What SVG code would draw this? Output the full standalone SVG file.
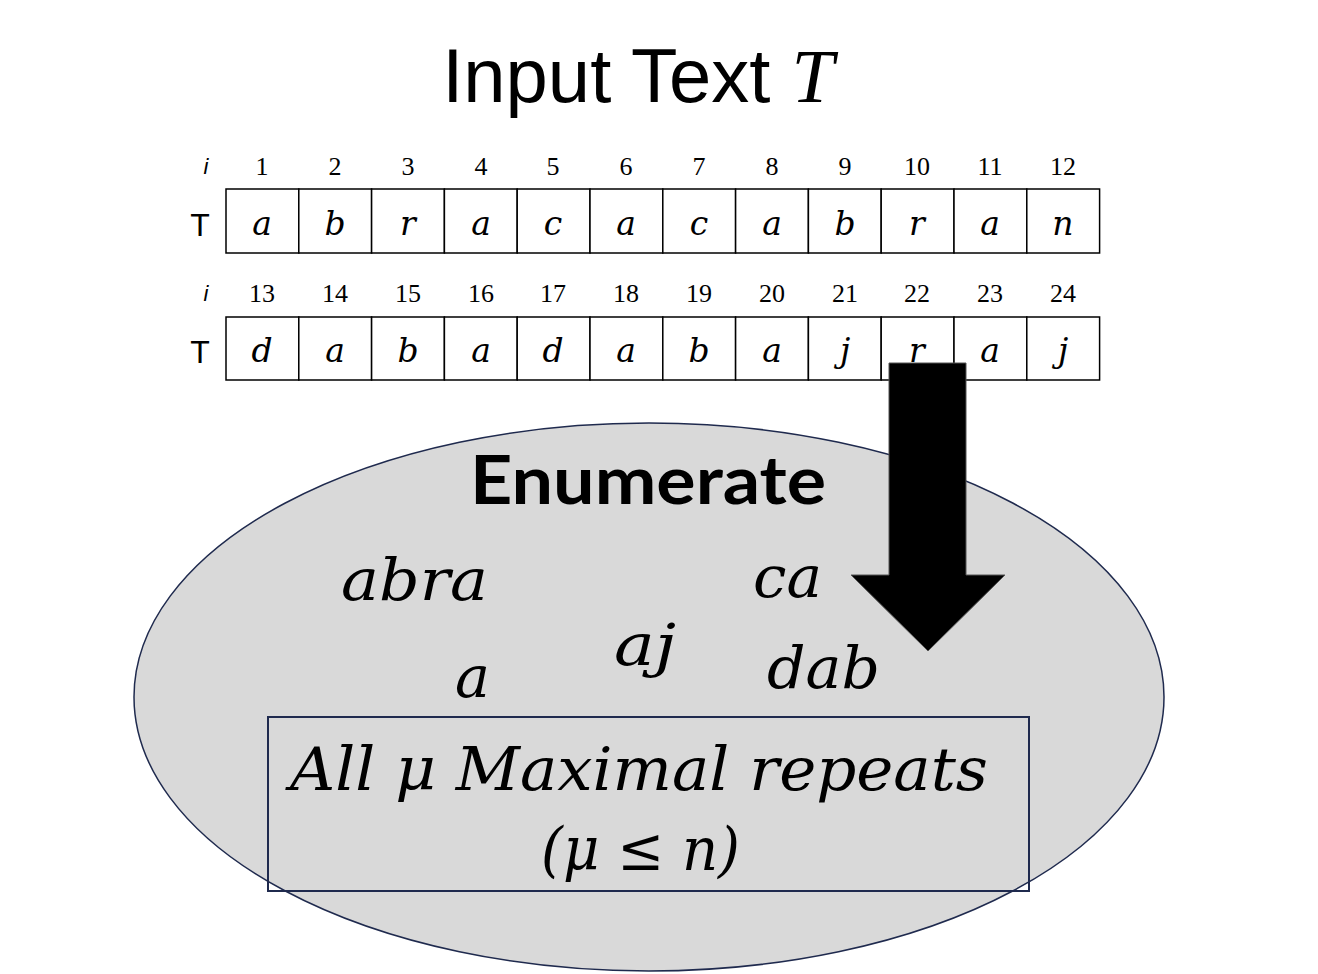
<svg xmlns="http://www.w3.org/2000/svg" width="1318" height="974" viewBox="0 0 1318 974">
<style>
.num{font-family:"Liberation Serif",serif;font-size:26px;text-anchor:middle;fill:#000}
.ii{font-family:"Liberation Sans",sans-serif;font-style:italic;font-size:22px;text-anchor:middle}
.tl{font-family:"Liberation Sans",sans-serif;font-size:32px;text-anchor:middle}
.ch{font-family:"DejaVu Serif",serif;font-style:italic;font-size:33px;text-anchor:middle}
.cell{fill:#fff;stroke:#000;stroke-width:1.5}
.m{font-family:"DejaVu Serif",serif;font-style:italic;fill:#000}
</style>
<rect width="1318" height="974" fill="#fff"/>
<g id="title">
<text x="638" y="102" font-family="Liberation Sans,sans-serif" font-size="76" text-anchor="middle">Input Text <tspan font-family="Liberation Serif,serif" font-style="italic">T</tspan></text>
</g>
<g id="row1">
<text class="ii" x="206" y="174">i</text>
<text class="tl" x="200" y="236">T</text>
<g id="cells1">
<rect class="cell" x="226" y="189" width="72.8" height="64"/>
<rect class="cell" x="298.8" y="189" width="72.8" height="64"/>
<rect class="cell" x="371.6" y="189" width="72.8" height="64"/>
<rect class="cell" x="444.4" y="189" width="72.8" height="64"/>
<rect class="cell" x="517.2" y="189" width="72.8" height="64"/>
<rect class="cell" x="590" y="189" width="72.8" height="64"/>
<rect class="cell" x="662.8" y="189" width="72.8" height="64"/>
<rect class="cell" x="735.6" y="189" width="72.8" height="64"/>
<rect class="cell" x="808.4" y="189" width="72.8" height="64"/>
<rect class="cell" x="881.2" y="189" width="72.8" height="64"/>
<rect class="cell" x="954" y="189" width="72.8" height="64"/>
<rect class="cell" x="1026.8" y="189" width="72.8" height="64"/>
</g>
<text class="num" x="262" y="175">1</text><text class="num" x="335" y="175">2</text><text class="num" x="408" y="175">3</text><text class="num" x="481" y="175">4</text><text class="num" x="553" y="175">5</text><text class="num" x="626" y="175">6</text><text class="num" x="699" y="175">7</text><text class="num" x="772" y="175">8</text><text class="num" x="845" y="175">9</text><text class="num" x="917" y="175">10</text><text class="num" x="990" y="175">11</text><text class="num" x="1063" y="175">12</text>
<text class="ch" x="262" y="235">a</text><text class="ch" x="335" y="235">b</text><text class="ch" x="408" y="235">r</text><text class="ch" x="481" y="235">a</text><text class="ch" x="553" y="235">c</text><text class="ch" x="626" y="235">a</text><text class="ch" x="699" y="235">c</text><text class="ch" x="772" y="235">a</text><text class="ch" x="845" y="235">b</text><text class="ch" x="917" y="235">r</text><text class="ch" x="990" y="235">a</text><text class="ch" x="1063" y="235">n</text>
</g>
<g id="row2">
<text class="ii" x="206" y="301">i</text>
<text class="tl" x="200" y="363">T</text>
<g id="cells2">
<rect class="cell" x="226" y="317" width="72.8" height="63"/>
<rect class="cell" x="298.8" y="317" width="72.8" height="63"/>
<rect class="cell" x="371.6" y="317" width="72.8" height="63"/>
<rect class="cell" x="444.4" y="317" width="72.8" height="63"/>
<rect class="cell" x="517.2" y="317" width="72.8" height="63"/>
<rect class="cell" x="590" y="317" width="72.8" height="63"/>
<rect class="cell" x="662.8" y="317" width="72.8" height="63"/>
<rect class="cell" x="735.6" y="317" width="72.8" height="63"/>
<rect class="cell" x="808.4" y="317" width="72.8" height="63"/>
<rect class="cell" x="881.2" y="317" width="72.8" height="63"/>
<rect class="cell" x="954" y="317" width="72.8" height="63"/>
<rect class="cell" x="1026.8" y="317" width="72.8" height="63"/>
</g>
<text class="num" x="262" y="302">13</text><text class="num" x="335" y="302">14</text><text class="num" x="408" y="302">15</text><text class="num" x="481" y="302">16</text><text class="num" x="553" y="302">17</text><text class="num" x="626" y="302">18</text><text class="num" x="699" y="302">19</text><text class="num" x="772" y="302">20</text><text class="num" x="845" y="302">21</text><text class="num" x="917" y="302">22</text><text class="num" x="990" y="302">23</text><text class="num" x="1063" y="302">24</text>
<text class="ch" x="262" y="362">d</text><text class="ch" x="335" y="362">a</text><text class="ch" x="408" y="362">b</text><text class="ch" x="481" y="362">a</text><text class="ch" x="553" y="362">d</text><text class="ch" x="626" y="362">a</text><text class="ch" x="699" y="362">b</text><text class="ch" x="772" y="362">a</text><text class="ch" x="845" y="362">j</text><text class="ch" x="917" y="362">r</text><text class="ch" x="990" y="362">a</text><text class="ch" x="1063" y="362">j</text>
</g>
<g id="ellipse">
<ellipse cx="649" cy="697" rx="515" ry="274" fill="#d9d9d9" stroke="#1f2a4e" stroke-width="1.5"/>
<text x="648" y="504" font-family="Lato,sans-serif" font-weight="bold" font-size="66" text-anchor="middle" textLength="356" lengthAdjust="spacingAndGlyphs">Enumerate</text>
<text class="m" x="341" y="600" font-size="58" textLength="147" lengthAdjust="spacingAndGlyphs">abra</text>
<text class="m" x="753" y="597" font-size="58" textLength="69" lengthAdjust="spacingAndGlyphs">ca</text>
<text class="m" x="614" y="665" font-size="58" textLength="62" lengthAdjust="spacingAndGlyphs">aj</text>
<text class="m" x="455" y="697" font-size="58" textLength="35" lengthAdjust="spacingAndGlyphs">a</text>
<text class="m" x="767" y="688" font-size="58" textLength="113" lengthAdjust="spacingAndGlyphs">dab</text>
</g>
<g id="result">
<rect x="268" y="717" width="761" height="174" fill="none" stroke="#1f2a4e" stroke-width="2"/>
<text class="m" x="290" y="790" font-size="60" textLength="698" lengthAdjust="spacingAndGlyphs">All μ Maximal repeats</text>
<text class="m" x="541" y="870" font-size="60" textLength="199" lengthAdjust="spacingAndGlyphs">(μ ≤ n)</text>
</g>
<g id="connectors">
<polygon points="889,363 966,363 966,575 1005,575 928,651 851,575 889,575" fill="#000" stroke="#555" stroke-width="1"/>
</g>
</svg>
